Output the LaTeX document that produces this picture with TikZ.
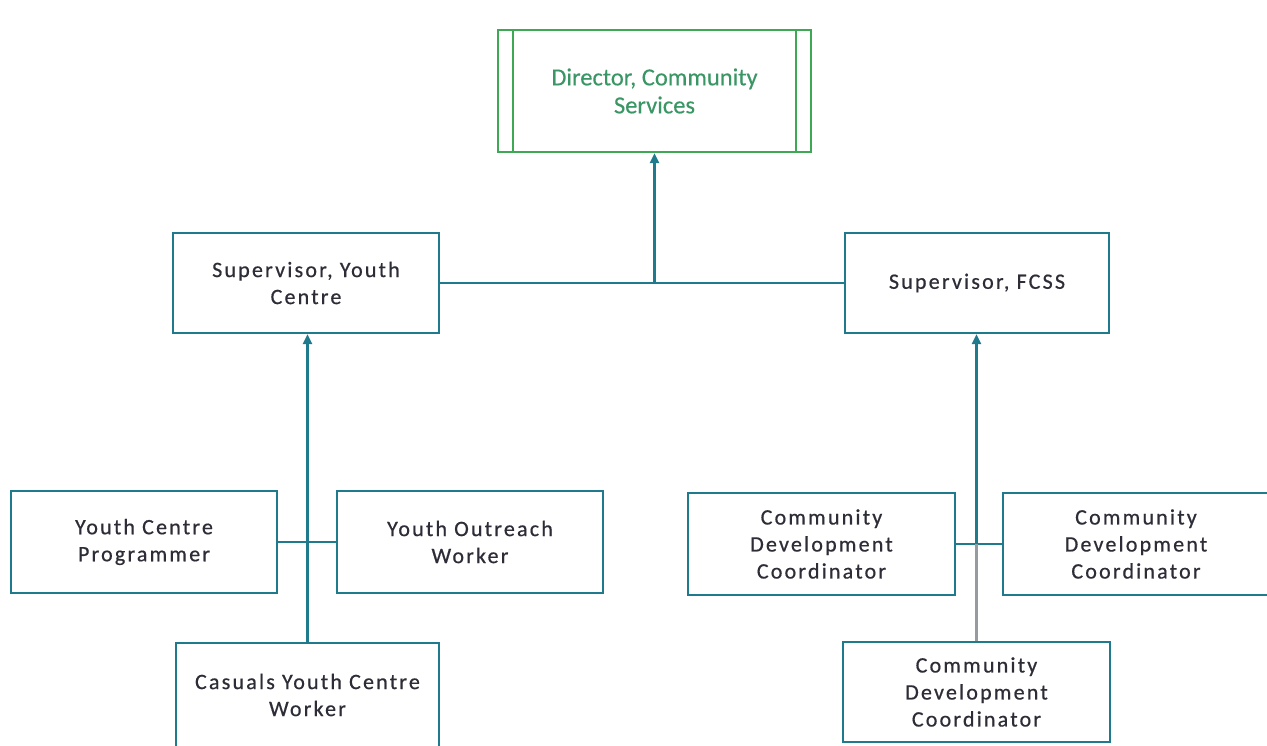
\documentclass[tikz,border=0pt]{standalone}
\usepackage{fontspec}
\setmainfont{Carlito}
\newfontfamily\spacedfont[LetterSpace=10,FakeBold=0.6]{Carlito}
\newfontfamily\dirfont[FakeBold=0.3]{Carlito}
\usetikzlibrary{arrows.meta}
\definecolor{lineteal}{RGB}{30,122,140}
\definecolor{boxgreen}{RGB}{62,168,84}
\definecolor{dirtext}{RGB}{58,150,100}
\definecolor{labeltext}{RGB}{45,45,55}
\definecolor{lowgrey}{RGB}{150,155,160}
\begin{document}
\begin{tikzpicture}[x=1pt,y=-1pt,
  orgbox/.style={draw=lineteal, line width=2.2pt, fill=white, inner sep=0pt,
    align=center, text=labeltext, font=\spacedfont\fontsize{22}{27}\selectfont},
  link/.style={draw=lineteal, line width=2.2pt},
  uparrow/.style={link, -{Triangle[length=10pt,width=9pt]}}
]
\useasboundingbox (0,0) rectangle (1267,745);
\clip (0,0) rectangle (1267,745);

% top box
\node[draw=boxgreen, line width=2.2pt, inner sep=0pt, minimum width=313pt, minimum height=122pt,
  align=center, text=dirtext, font=\dirfont\fontsize{24.5}{28}\selectfont] (dir) at (654.5,91) {Director, Community\\Services};
\draw[draw=boxgreen, line width=1.8pt] ([xshift=16pt]dir.north west) -- ([xshift=16pt]dir.south west);
\draw[draw=boxgreen, line width=1.8pt] ([xshift=-16pt]dir.north east) -- ([xshift=-16pt]dir.south east);

% supervisors
\node[orgbox, minimum width=266pt, minimum height=100pt] (syc) at (306,283) {Supervisor, Youth\\Centre};
\node[orgbox, minimum width=264pt, minimum height=100pt] (sfc) at (977,283) {Supervisor, FCSS};

% youth centre staff
\node[orgbox, minimum width=266pt, minimum height=102pt] (ycp) at (144,542) {Youth Centre\\Programmer};
\node[orgbox, minimum width=266pt, minimum height=102pt] (yow) at (470,542) {Youth Outreach\\Worker};
\node[orgbox, minimum width=263pt, minimum height=104pt] (cas) at (307.5,695) {Casuals Youth Centre\\Worker};

% FCSS staff
\node[orgbox, minimum width=267pt, minimum height=102pt] (cdca) at (821.5,544) {Community\\Development\\Coordinator};
\node[orgbox, minimum width=266pt, minimum height=102pt] (cdcb) at (1136,544) {Community\\Development\\Coordinator};
\node[orgbox, minimum width=267pt, minimum height=100pt] (cdcc) at (976.5,692) {Community\\Development\\Coordinator};

% connectors top
\coordinate (jtop) at (dir.south |- syc.east);
\draw[link] (syc.east) -- (sfc.west);
\draw[uparrow] (jtop) -- (dir.south);

% left branch
\draw[link] (ycp.east) -- (yow.west);
\draw[uparrow] (cas.north) -- (cas.north |- syc.south);

% right branch
\coordinate (jright) at (cdcc.north |- cdca.east);
\draw[link] (cdca.east) -- (cdcb.west);
\draw[draw=lowgrey, line width=2.2pt] (cdcc.north) -- (jright);
\draw[uparrow] (jright) -- (jright |- sfc.south);
\end{tikzpicture}
\end{document}
